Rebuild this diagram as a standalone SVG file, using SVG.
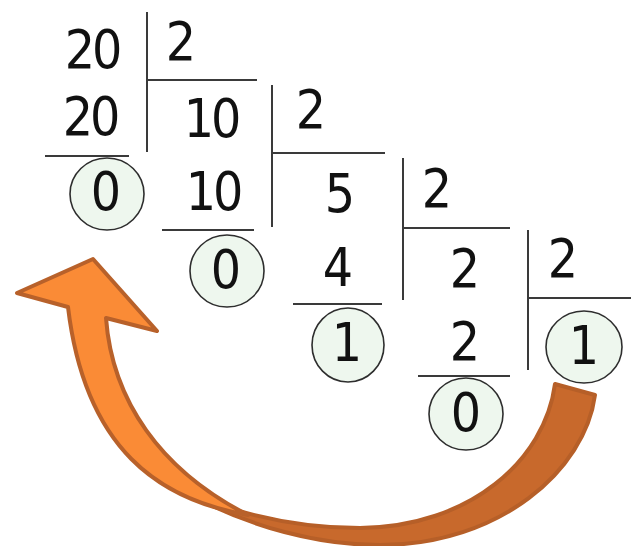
<svg xmlns="http://www.w3.org/2000/svg" width="631" height="546" viewBox="0 0 631 546">
<style>
  text { font-family: "DejaVu Sans Condensed", "DejaVu Sans", sans-serif; font-stretch: condensed; font-size: 53px; fill: #111; text-anchor: middle; }
  .two { letter-spacing: -3px; }
  .ln { stroke: #3a3a3a; stroke-width: 2; fill: none; }
  .rem { fill: #eef7ee; stroke: #2e2e2e; stroke-width: 1.6; }
  .front { fill: #fa8b36; stroke: #b8612a; stroke-width: 4; stroke-linejoin: round; }
  .back { fill: #c8692c; stroke: #b65f28; stroke-width: 4; stroke-linejoin: round; }
</style>
<rect width="631" height="546" fill="#ffffff"/>

<g id="connectors">
  <line class="ln" x1="147" y1="12" x2="147" y2="152"/>
  <line class="ln" x1="147" y1="80" x2="257" y2="80"/>
  <line class="ln" x1="45" y1="156" x2="129" y2="156"/>
  <line class="ln" x1="272" y1="85" x2="272" y2="227"/>
  <line class="ln" x1="272" y1="153" x2="385" y2="153"/>
  <line class="ln" x1="162" y1="230" x2="254" y2="230"/>
  <line class="ln" x1="403" y1="158" x2="403" y2="300"/>
  <line class="ln" x1="403" y1="228" x2="510" y2="228"/>
  <line class="ln" x1="293" y1="304" x2="382" y2="304"/>
  <line class="ln" x1="528" y1="230" x2="528" y2="370"/>
  <line class="ln" x1="528" y1="298" x2="631" y2="298"/>
  <line class="ln" x1="418" y1="376" x2="510" y2="376"/>
</g>

<g id="step1">
  <text class="two" x="92" y="68">20</text>
  <text x="181" y="60">2</text>
  <text class="two" x="90" y="135">20</text>
  <ellipse class="rem" cx="107" cy="194" rx="37" ry="36"/>
  <text x="106" y="210">0</text>
</g>

<g id="step2">
  <text class="two" x="211" y="137">10</text>
  <text x="311" y="128">2</text>
  <text class="two" x="213" y="210">10</text>
  <ellipse class="rem" cx="227" cy="271" rx="37" ry="36"/>
  <text x="226" y="288">0</text>
</g>

<g id="step3">
  <text x="340" y="212">5</text>
  <text x="437" y="207">2</text>
  <text x="338" y="286">4</text>
  <ellipse class="rem" cx="348" cy="345" rx="36" ry="37"/>
  <text x="347" y="361">1</text>
</g>

<g id="step4">
  <text x="465" y="287">2</text>
  <text x="563" y="277">2</text>
  <text x="465" y="360">2</text>
  <ellipse class="rem" cx="466" cy="414" rx="37" ry="36"/>
  <text x="466" y="431">0</text>
</g>

<g id="step5">
  <ellipse class="rem" cx="584" cy="347" rx="38" ry="36"/>
  <text x="584" y="364">1</text>
</g>

<g id="arrow">
  <path class="back" d="M 185,492 C 250,528 320,545 380,545 C 500,545 585,470 595,395 L 555,384 C 545,460 470,527 360,528 C 300,528 240,515 185,492 Z"/>
  <path class="front" d="M 68,307 L 17,293 L 93,259 L 157,331 L 106,318 C 112,400 160,470 248,515 C 160,500 85,450 68,307 Z"/>
</g>
</svg>
